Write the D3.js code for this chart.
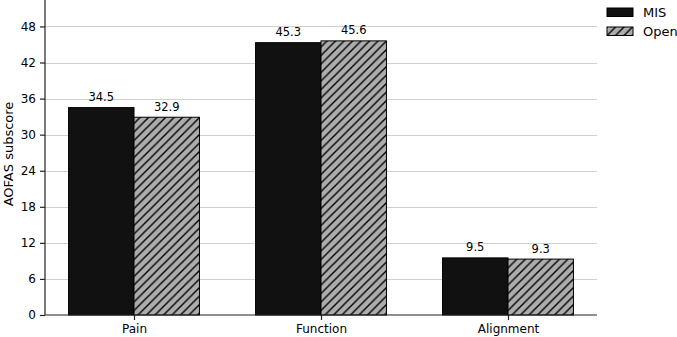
<!DOCTYPE html>
<html>
<head>
<meta charset="utf-8">
<script src="https://cdn.jsdelivr.net/npm/d3@7"></script>
<style>
  body { margin: 0; background: #fff; }
  svg { display: block; font-family: "DejaVu Sans", sans-serif; }
</style>
</head>
<body>
<svg id="chart" width="677" height="337"></svg>
<script>
var categories = ["Pain", "Function", "Alignment"];
var misValues = [34.5, 45.3, 9.5];
var openValues = [32.9, 45.6, 9.3];
var seriesNames = ["MIS", "Open"];
var yTicks = [0, 6, 12, 18, 24, 30, 36, 42, 48];

var svg = d3.select("#chart");
var margin = { top: 0, right: 80, bottom: 22, left: 45 };
var width = 677 - margin.left - margin.right;
var height = 337 - margin.top - margin.bottom;

// hatch pattern for the "Open" bars
var defs = svg.append("defs");
var pat = defs.append("pattern")
    .attr("id", "hatch")
    .attr("patternUnits", "userSpaceOnUse")
    .attr("width", 8.5)
    .attr("height", 8.5);
pat.append("rect").attr("width", 8.5).attr("height", 8.5).attr("fill", "#adadad");
pat.append("path")
    .attr("d", "M-2,2 L2,-2 M0,8.5 L8.5,0 M6.5,10.5 L10.5,6.5")
    .attr("stroke", "#000")
    .attr("stroke-width", 1.4);

var g = svg.append("g").attr("transform", "translate(" + margin.left + "," + margin.top + ")");

var barW = 0.35;
var x = d3.scaleLinear().domain([-0.476, 2.476]).range([0, width]);
var y = d3.scaleLinear().domain([0, 52.4]).range([height, 0]);

// grid
g.append("g")
    .selectAll("line")
    .data(yTicks.slice(1))
    .enter().append("line")
    .attr("x1", 0)
    .attr("x2", width)
    .attr("y1", function (d) { return Math.round(y(d)) + 0.5; })
    .attr("y2", function (d) { return Math.round(y(d)) + 0.5; })
    .attr("stroke", "#d0d0d0")
    .attr("stroke-width", 1);

var data = categories.map(function (c, i) {
    return { cat: c, i: i, mis: misValues[i], open: openValues[i] };
});

// MIS bars
g.selectAll(".bar-mis")
    .data(data)
    .enter().append("rect")
    .attr("class", "bar-mis")
    .attr("x", function (d) { return x(d.i - barW); })
    .attr("y", function (d) { return y(d.mis); })
    .attr("width", x(barW) - x(0))
    .attr("height", function (d) { return height - y(d.mis); })
    .attr("fill", "#111")
    .attr("stroke", "#000")
    .attr("stroke-width", 1);

// Open bars
g.selectAll(".bar-open")
    .data(data)
    .enter().append("rect")
    .attr("class", "bar-open")
    .attr("x", function (d) { return x(d.i); })
    .attr("y", function (d) { return y(d.open); })
    .attr("width", x(barW) - x(0))
    .attr("height", function (d) { return height - y(d.open); })
    .attr("fill", "url(#hatch)")
    .attr("stroke", "#000")
    .attr("stroke-width", 1);

// value labels
g.selectAll(".lab-mis")
    .data(data)
    .enter().append("text")
    .attr("x", function (d) { return x(d.i - barW / 2); })
    .attr("y", function (d) { return y(d.mis) - 6.5; })
    .attr("text-anchor", "middle")
    .style("font-size", "11.5px")
    .text(function (d) { return d.mis.toFixed(1); });
g.selectAll(".lab-open")
    .data(data)
    .enter().append("text")
    .attr("x", function (d) { return x(d.i + barW / 2); })
    .attr("y", function (d) { return y(d.open) - 6.5; })
    .attr("text-anchor", "middle")
    .style("font-size", "11.5px")
    .text(function (d) { return d.open.toFixed(1); });

// axes
var yAxis = g.append("g")
    .call(d3.axisLeft(y).tickValues(yTicks).tickSize(5).tickPadding(4).tickFormat(d3.format("d")))
    .style("font-size", "12px");
var xAxis = g.append("g")
    .attr("transform", "translate(0," + height + ")")
    .call(d3.axisBottom(x).tickValues([0, 1, 2]).tickSize(5).tickPadding(4)
        .tickFormat(function (d) { return categories[d]; }))
    .style("font-size", "12px");
[yAxis, xAxis].forEach(function (a) {
    a.attr("font-family", null);
    a.selectAll("path, line").attr("stroke", "#222").attr("stroke-width", 1.2);
    a.selectAll("text").attr("fill", "#000");
});
yAxis.select(".domain").attr("d", "M0," + height + "V0");
xAxis.select(".domain").attr("d", "M0,0H" + width);

// y label
svg.append("text")
    .attr("transform", "translate(13,154) rotate(-90)")
    .attr("text-anchor", "middle")
    .style("font-size", "13px")
    .text("AOFAS subscore");

// legend
var legend = svg.append("g").attr("transform", "translate(607,8)");
seriesNames.forEach(function (s, i) {
    var row = legend.append("g").attr("transform", "translate(0," + (i * 19) + ")");
    row.append("rect")
        .attr("width", 26)
        .attr("height", 8.5)
        .attr("fill", i === 0 ? "#111" : "url(#hatch)")
        .attr("stroke", "#000")
        .attr("stroke-width", 1);
    row.append("text")
        .attr("x", 36)
        .attr("y", 9)
        .style("font-size", "13px")
        .text(s);
});
</script>
</body>
</html>
